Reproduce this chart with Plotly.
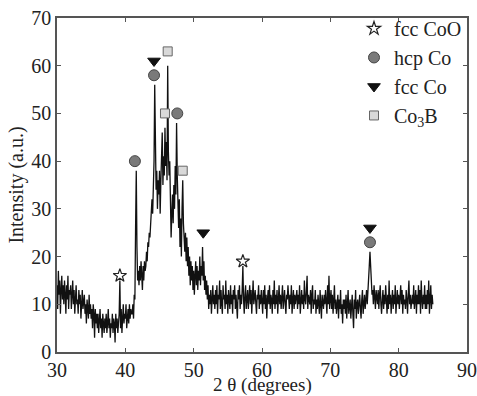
import numpy as np
import plotly.graph_objects as go

# XRD intensity, one row per degree of 2-theta (0.1 degree steps), from 30.0 to 85.0
intensity_rows = [
    [14, 9, 17, 12, 15, 8, 13, 16, 11, 14],   # 30
    [10, 15, 12, 8, 14, 11, 16, 9, 13, 12],   # 31
    [14, 9, 12, 15, 10, 13, 8, 12, 14, 10],   # 32
    [11, 8, 13, 10, 12, 7, 11, 13, 9, 10],    # 33
    [12, 8, 10, 6, 11, 9, 7, 12, 8, 10],      # 34
    [7, 9, 5, 10, 8, 3, 9, 6, 8, 5],          # 35
    [8, 4, 7, 9, 5, 7, 3, 8, 6, 4],           # 36
    [7, 5, 8, 4, 6, 9, 5, 7, 3, 6],           # 37
    [5, 8, 4, 7, 6, 2, 8, 5, 7, 4],           # 38
    [6, 8, 15, 5, 9, 4, 7, 10, 6, 8],         # 39
    [7, 10, 5, 8, 9, 6, 10, 7, 9, 8],         # 40
    [8, 10, 7, 12, 11, 26, 38, 22, 15, 17],   # 41
    [14, 18, 15, 19, 16, 13, 18, 15, 19, 17], # 42
    [18, 21, 19, 23, 22, 25, 24, 28, 30, 32], # 43
    [29, 35, 40, 56, 42, 34, 38, 30, 36, 33], # 44
    [38, 29, 36, 42, 46, 35, 41, 37, 47, 39], # 45
    [44, 36, 60, 42, 37, 40, 32, 24, 29, 33], # 46
    [27, 35, 30, 39, 33, 48, 37, 30, 26, 32], # 47
    [22, 28, 20, 30, 36, 27, 24, 21, 25, 19], # 48
    [24, 18, 22, 16, 20, 14, 19, 15, 18, 13], # 49
    [17, 12, 16, 19, 14, 18, 13, 17, 15, 20], # 50
    [14, 18, 16, 22, 15, 19, 13, 16, 12, 15], # 51
    [11, 14, 9, 12, 10, 13, 8, 11, 14, 10],   # 52
    [12, 9, 13, 10, 14, 8, 12, 11, 15, 9],    # 53
    [13, 10, 8, 14, 11, 12, 9, 15, 10, 12],   # 54
    [8, 13, 11, 9, 14, 10, 12, 8, 13, 11],    # 55
    [14, 9, 12, 10, 7, 13, 11, 14, 9, 12],    # 56
    [10, 13, 18, 11, 8, 12, 14, 9, 11, 13],   # 57
    [9, 12, 14, 10, 13, 8, 11, 15, 10, 12],   # 58
    [13, 10, 8, 12, 11, 14, 9, 12, 10, 13],   # 59
    [11, 8, 13, 10, 14, 9, 12, 7, 11, 13],    # 60
    [10, 14, 9, 12, 11, 8, 13, 10, 15, 9],    # 61
    [12, 10, 13, 8, 11, 14, 10, 12, 9, 11],   # 62
    [14, 9, 11, 13, 10, 8, 12, 11, 14, 10],   # 63
    [9, 12, 10, 14, 8, 11, 13, 9, 12, 10],    # 64
    [11, 13, 9, 12, 10, 14, 8, 11, 13, 10],   # 65
    [12, 9, 15, 11, 10, 13, 16, 9, 12, 11],   # 66
    [10, 13, 8, 12, 14, 9, 11, 10, 13, 8],    # 67
    [11, 9, 12, 10, 8, 13, 11, 7, 12, 10],    # 68
    [9, 12, 10, 13, 11, 8, 14, 10, 16, 9],    # 69
    [11, 13, 9, 12, 8, 10, 14, 9, 11, 8],     # 70
    [10, 12, 7, 11, 9, 13, 8, 10, 6, 11],     # 71
    [9, 11, 8, 12, 7, 10, 13, 8, 9, 11],      # 72
    [7, 10, 12, 8, 5, 11, 9, 13, 7, 10],      # 73
    [11, 8, 10, 12, 9, 7, 11, 13, 8, 10],     # 74
    [12, 9, 11, 13, 10, 12, 15, 18, 21, 17],  # 75
    [14, 12, 13, 10, 14, 12, 9, 13, 11, 10],  # 76
    [13, 9, 12, 14, 10, 8, 11, 13, 9, 12],    # 77
    [10, 14, 11, 8, 12, 9, 15, 10, 12, 8],    # 78
    [11, 13, 9, 12, 10, 14, 8, 11, 13, 10],   # 79
    [12, 9, 11, 14, 10, 13, 8, 12, 10, 11],   # 80
    [9, 13, 11, 8, 12, 15, 10, 12, 9, 11],    # 81
    [12, 10, 14, 9, 11, 13, 8, 12, 10, 14],   # 82
    [10, 13, 8, 15, 11, 9, 12, 10, 14, 9],    # 83
    [12, 9, 13, 10, 15, 8, 11, 14, 9, 12],    # 84
    [10],                                     # 85
]

# Phase markers (2-theta, height)
fcc_coo_x = [39.2, 57.2]
fcc_coo_y = [16.0, 19.0]
hcp_co_x = [41.4, 44.2, 47.6, 75.8]
hcp_co_y = [40.0, 58.0, 50.0, 23.0]
fcc_co_x = [44.2, 51.4, 75.8]
fcc_co_y = [61.0, 25.0, 26.0]
co3b_x = [46.2, 45.8, 48.4]
co3b_y = [63.0, 50.0, 38.0]

x_ticks = [30, 40, 50, 60, 70, 80, 90]
y_ticks = [0, 10, 20, 30, 40, 50, 60, 70]

intensity = [v for row in intensity_rows for v in row]
two_theta = np.round(30.0 + 0.1 * np.arange(len(intensity)), 1)

serif = "Liberation Serif"
ink = "#222222"
fig = go.Figure()

fig.add_trace(go.Scatter(
    x=two_theta, y=intensity, mode="lines",
    line=dict(color="#111111", width=1.3),
    showlegend=False, hoverinfo="skip",
))

fig.add_trace(go.Scatter(
    x=fcc_coo_x, y=fcc_coo_y, mode="markers", name="fcc CoO",
    marker=dict(symbol="star", size=10, color="white",
                line=dict(color=ink, width=1.2)),
))
fig.add_trace(go.Scatter(
    x=hcp_co_x, y=hcp_co_y, mode="markers", name="hcp Co",
    marker=dict(symbol="circle", size=11, color="#7a7a7a",
                line=dict(color="#444444", width=1)),
))
fig.add_trace(go.Scatter(
    x=fcc_co_x, y=fcc_co_y, mode="markers", name="fcc Co",
    marker=dict(symbol="triangle-down", size=11, color="#111111",
                line=dict(color="#111111", width=1)),
))
fig.add_trace(go.Scatter(
    x=co3b_x, y=co3b_y, mode="markers", name="Co<sub>3</sub>B",
    marker=dict(symbol="square", size=9, color="#d9d9d9",
                line=dict(color="#666666", width=1)),
))

axis_common = dict(
    showline=True, linecolor="#555555", linewidth=1.5, mirror="ticks",
    ticks="inside", ticklen=4, tickcolor="#555555",
    showgrid=False, zeroline=False, automargin=False,
    tickfont=dict(family=serif, size=20, color=ink),
)

fig.update_layout(
    width=477, height=396,
    margin=dict(l=57, r=10, t=17, b=44),
    paper_bgcolor="white", plot_bgcolor="white",
    font=dict(family=serif, size=20, color=ink),
    xaxis=dict(range=[30, 90], tickvals=x_ticks, ticklabelstandoff=-1,
               **axis_common),
    yaxis=dict(range=[0, 70], tickvals=y_ticks,
               title=dict(text="Intensity (a.u.)", standoff=2,
                          font=dict(family=serif, size=20, color=ink)),
               **axis_common),
    legend=dict(x=1.0, y=1.024, xanchor="right", yanchor="top",
                bgcolor="rgba(0,0,0,0)", borderwidth=0,
                font=dict(family=serif, size=20, color=ink),
                tracegroupgap=0, itemwidth=30),
    showlegend=True,
)

# x-axis title placed just under the tick labels
fig.add_annotation(
    text="2 θ (degrees)", xref="paper", yref="paper",
    x=0.5, y=-0.1, xanchor="center", yanchor="middle",
    showarrow=False, font=dict(family=serif, size=19, color=ink),
)

fig.write_html("out.html")
